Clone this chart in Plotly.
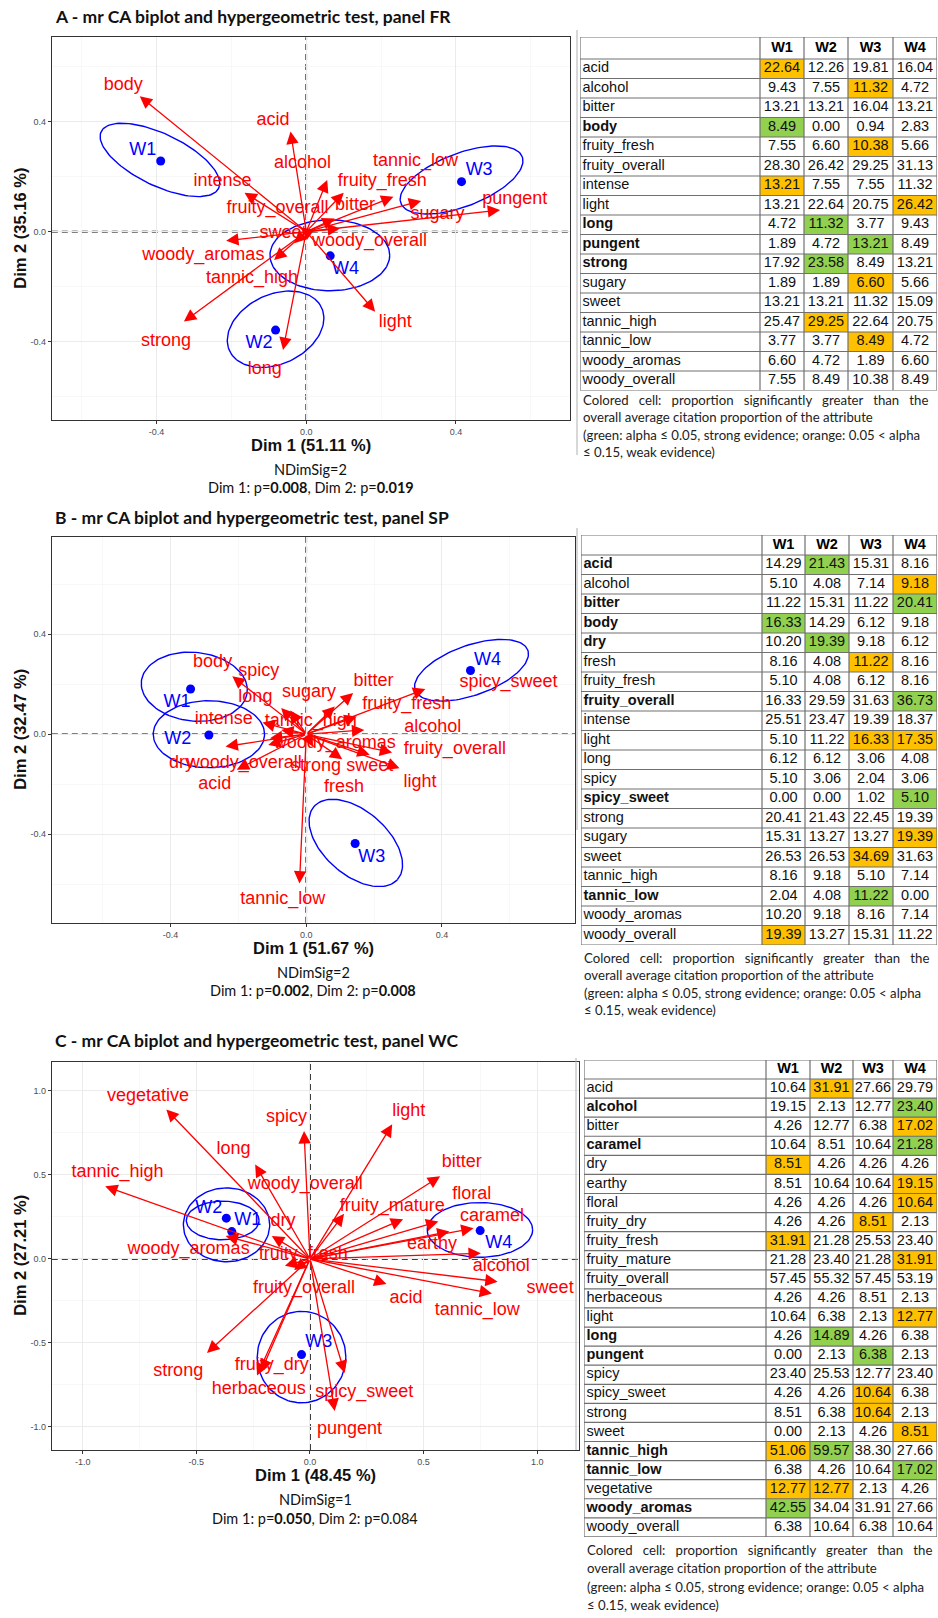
import numpy as np
import plotly.graph_objects as go

FIG_W, FIG_H = 938, 1618
wines = ["W1", "W2", "W3", "W4"]

# ---------------- Panel A (FR) ----------------
attrs_A = ["acid", "alcohol", "bitter", "body", "fruity_fresh", "fruity_overall", "intense", "light",
           "long", "pungent", "strong", "sugary", "sweet", "tannic_high", "tannic_low",
           "woody_aromas", "woody_overall"]
dim1_A = [-0.042, 0.056, 0.076, -0.445, 0.100, -0.015, -0.165, 0.184, -0.062, 0.518, -0.327, 0.307,
          -0.032, -0.086, 0.233, -0.214, 0.090]
dim2_A = [0.364, 0.188, 0.048, 0.493, 0.142, 0.015, 0.142, -0.291, -0.430, 0.079, -0.327, 0.112,
          -0.042, -0.103, 0.127, -0.033, 0.012]
labx_A = [-0.089, -0.010, 0.130, -0.489, 0.203, -0.077, -0.224, 0.238, -0.111, 0.557, -0.375, 0.351,
          -0.062, -0.145, 0.292, -0.275, 0.169]
laby_A = [0.404, 0.248, 0.097, 0.533, 0.182, 0.085, 0.182, -0.331, -0.500, 0.118, -0.400, 0.061,
          -0.006, -0.170, 0.257, -0.088, -0.036]
wine_d1_A = [-0.389, -0.082, 0.415, 0.064]
wine_d2_A = [0.257, -0.358, 0.182, -0.088]
wlabx_A = [-0.437, -0.126, 0.462, 0.105]
wlaby_A = [0.295, -0.406, 0.222, -0.137]
ell_cx_A = [-0.391, -0.082, 0.415, 0.063]
ell_cy_A = [0.261, -0.355, 0.188, -0.086]
ell_ux_A = [0.157, 0.105, 0.162, 0.160]
ell_uy_A = [-0.103, 0.110, 0.085, 0.0]
ell_vx_A = [0.030, -0.075, -0.026, 0.0]
ell_vy_A = [0.085, 0.085, 0.090, 0.129]
W1_A = [22.64, 9.43, 13.21, 8.49, 7.55, 28.30, 13.21, 13.21, 4.72, 1.89, 17.92, 1.89, 13.21, 25.47, 3.77, 6.60, 7.55]
W2_A = [12.26, 7.55, 13.21, 0.00, 6.60, 26.42, 7.55, 22.64, 11.32, 4.72, 23.58, 1.89, 13.21, 29.25, 3.77, 4.72, 8.49]
W3_A = [19.81, 11.32, 16.04, 0.94, 10.38, 29.25, 7.55, 20.75, 3.77, 13.21, 8.49, 6.60, 11.32, 22.64, 8.49, 1.89, 10.38]
W4_A = [16.04, 4.72, 13.21, 2.83, 5.66, 31.13, 11.32, 26.42, 9.43, 8.49, 13.21, 5.66, 15.09, 20.75, 4.72, 6.60, 8.49]
sig_A = ["o...", "..o.", "....", "g...", "..o.", "....", "o...", "...o", ".g..", "..g.", ".g..", "..o.",
         "....", ".o..", "..o.", "....", "...."]
bold_A = ["body", "long", "pungent", "strong"]

# ---------------- Panel B (SP) ----------------
attrs_B = ["acid", "alcohol", "bitter", "body", "dry", "fresh", "fruity_fresh", "fruity_overall", "intense",
           "light", "long", "spicy", "spicy_sweet", "strong", "sugary", "sweet", "tannic_high",
           "tannic_low", "woody_aromas", "woody_overall"]
dim1_B = [-0.205, 0.171, 0.138, -0.218, -0.238, 0.106, 0.149, 0.253, -0.129, 0.275, -0.047, -0.074,
          0.351, 0.020, 0.084, 0.187, -0.074, -0.020, -0.107, -0.112]
dim2_B = [-0.142, 0.017, 0.165, 0.232, -0.049, -0.100, 0.071, -0.073, 0.047, -0.136, 0.095, 0.105,
          0.181, -0.050, 0.111, -0.082, 0.017, -0.597, -0.016, -0.043]
labx_B = [-0.270, 0.373, 0.198, -0.276, -0.368, 0.111, 0.296, 0.438, -0.243, 0.335, -0.150, -0.140,
          0.596, 0.029, 0.008, 0.187, 0.013, -0.069, 0.084, -0.183]
laby_B = [-0.202, 0.027, 0.212, 0.286, -0.116, -0.215, 0.118, -0.060, 0.058, -0.195, 0.145, 0.252,
          0.205, -0.129, 0.165, -0.129, 0.051, -0.661, -0.036, -0.116]
wine_d1_B = [-0.341, -0.287, 0.144, 0.484]
wine_d2_B = [0.181, -0.003, -0.437, 0.255]
wlabx_B = [-0.381, -0.379, 0.193, 0.534]
wlaby_B = [0.128, -0.023, -0.495, 0.295]
ell_cx_B = [-0.330, -0.287, 0.146, 0.487]
ell_cy_B = [0.190, 0.000, -0.435, 0.256]
ell_ux_B = [0.155, 0.164, 0.123, 0.166]
ell_uy_B = [-0.030, 0.0, -0.146, 0.080]
ell_vx_B = [0.020, 0.0, 0.062, -0.025]
ell_vy_B = [0.135, 0.134, 0.096, 0.094]
W1_B = [14.29, 5.10, 11.22, 16.33, 10.20, 8.16, 5.10, 16.33, 25.51, 5.10, 6.12, 5.10, 0.00, 20.41, 15.31, 26.53, 8.16, 2.04, 10.20, 19.39]
W2_B = [21.43, 4.08, 15.31, 14.29, 19.39, 4.08, 4.08, 29.59, 23.47, 11.22, 6.12, 3.06, 0.00, 21.43, 13.27, 26.53, 9.18, 4.08, 9.18, 13.27]
W3_B = [15.31, 7.14, 11.22, 6.12, 9.18, 11.22, 6.12, 31.63, 19.39, 16.33, 3.06, 2.04, 1.02, 22.45, 13.27, 34.69, 5.10, 11.22, 8.16, 15.31]
W4_B = [8.16, 9.18, 20.41, 9.18, 6.12, 8.16, 8.16, 36.73, 18.37, 17.35, 4.08, 3.06, 5.10, 19.39, 19.39, 31.63, 7.14, 0.00, 7.14, 11.22]
sig_B = [".g..", "...o", "...g", "g...", ".g..", "..o.", "....", "...g", "....", "..oo", "....", "....",
         "...g", "....", "...o", "..o.", "....", "..g.", "....", "o..."]
bold_B = ["acid", "bitter", "body", "dry", "fruity_overall", "spicy_sweet", "tannic_low"]

# ---------------- Panel C (WC) ----------------
attrs_C = ["acid", "alcohol", "bitter", "caramel", "dry", "earthy", "floral", "fruity_dry", "fruity_fresh",
           "fruity_mature", "fruity_overall", "herbaceous", "light", "long", "pungent", "spicy",
           "spicy_sweet", "strong", "sweet", "tannic_high", "tannic_low", "vegetative", "woody_aromas",
           "woody_overall"]
dim1_C = [0.337, 0.752, 0.573, 0.720, -0.168, 0.614, 0.565, -0.233, -0.110, 0.410, -0.070, -0.215,
          0.362, -0.241, 0.109, -0.026, 0.153, -0.453, 0.826, -0.901, 0.801, -0.632, -0.371, 0.150]
dim2_C = [-0.149, 0.034, 0.492, 0.183, 0.137, 0.163, 0.223, -0.694, -0.040, 0.237, -0.066, -0.670,
          0.801, 0.562, -0.905, 0.761, -0.678, -0.559, -0.135, 0.432, -0.205, 0.890, 0.137, 0.269]
labx_C = [0.423, 0.842, 0.668, 0.801, -0.119, 0.537, 0.712, -0.168, -0.029, 0.362, -0.026, -0.225,
          0.435, -0.336, 0.174, -0.103, 0.239, -0.580, 1.057, -0.847, 0.736, -0.713, -0.534, -0.021]
laby_C = [-0.235, -0.046, 0.572, 0.253, 0.223, 0.084, 0.386, -0.634, 0.024, 0.313, -0.175, -0.777,
          0.876, 0.651, -1.014, 0.841, -0.797, -0.668, -0.175, 0.512, -0.306, 0.966, 0.058, 0.442]
wine_d1_C = [-0.344, -0.368, -0.037, 0.749]
wine_d2_C = [0.163, 0.243, -0.569, 0.169]
wlabx_C = [-0.274, -0.445, 0.039, 0.831]
wlaby_C = [0.229, 0.303, -0.500, 0.094]
ell_cx_C = [-0.367, -0.384, -0.037, 0.748]
ell_cy_C = [0.203, 0.229, -0.584, 0.173]
ell_ux_C = [0.190, 0.160, 0.195, 0.232]
ell_uy_C = [0.0, 0.0, 0.0, 0.0]
ell_vx_C = [0.0, 0.0, 0.0, 0.0]
ell_vy_C = [0.220, 0.115, 0.272, 0.163]
W1_C = [10.64, 19.15, 4.26, 10.64, 8.51, 8.51, 4.26, 4.26, 31.91, 21.28, 57.45, 4.26, 10.64, 4.26, 0.00, 23.40, 4.26, 8.51, 0.00, 51.06, 6.38, 12.77, 42.55, 6.38]
W2_C = [31.91, 2.13, 12.77, 8.51, 4.26, 10.64, 4.26, 4.26, 21.28, 23.40, 55.32, 4.26, 6.38, 14.89, 2.13, 25.53, 4.26, 6.38, 2.13, 59.57, 4.26, 12.77, 34.04, 10.64]
W3_C = [27.66, 12.77, 6.38, 10.64, 4.26, 10.64, 4.26, 8.51, 25.53, 21.28, 57.45, 8.51, 2.13, 4.26, 6.38, 12.77, 10.64, 10.64, 4.26, 38.30, 10.64, 2.13, 31.91, 6.38]
W4_C = [29.79, 23.40, 17.02, 21.28, 4.26, 19.15, 10.64, 2.13, 23.40, 31.91, 53.19, 2.13, 12.77, 6.38, 2.13, 23.40, 6.38, 2.13, 8.51, 27.66, 17.02, 4.26, 27.66, 10.64]
sig_C = [".o..", "...g", "...o", "...g", "o...", "...o", "...o", "..o.", "o...", "...o", "....", "....",
         "...o", ".g..", "..g.", "....", "..o.", "..o.", "...o", "og..", "...g", "oo..", "g...", "...."]
bold_C = ["alcohol", "caramel", "long", "pungent", "tannic_high", "tannic_low", "woody_aromas"]

titles = ["A - mr CA biplot and hypergeometric test, panel FR",
          "B - mr CA biplot and hypergeometric test, panel SP",
          "C - mr CA biplot and hypergeometric test, panel WC"]
dim1_pct = ["Dim 1 (51.11 %)", "Dim 1 (51.67 %)", "Dim 1 (48.45 %)"]
dim2_pct = ["Dim 2 (35.16 %)", "Dim 2 (32.47 %)", "Dim 2 (27.21 %)"]
ndimsig = ["NDimSig=2", "NDimSig=2", "NDimSig=1"]
pvals = ["Dim 1: p=<b>0.008</b>, Dim 2: p=<b>0.019</b>",
         "Dim 1: p=<b>0.002</b>, Dim 2: p=<b>0.008</b>",
         "Dim 1: p=<b>0.050</b>, Dim 2: p=0.084"]
NB = "\u00a0"
caption_lines = [
    "Colored" + NB * 3 + "cell:" + NB * 3 + "proportion" + NB * 3 + "significantly" + NB * 3 + "greater" + NB * 3 + "than" + NB * 3 + "the",
    "overall average citation proportion of the attribute",
    "(green: alpha ≤ 0.05, strong evidence; orange: 0.05 &lt; alpha",
    "≤ 0.15, weak evidence)",
]

# ---------------- layout geometry (pixels) ----------------
panels = [
    dict(attrs=attrs_A, d1=dim1_A, d2=dim2_A, lx=labx_A, ly=laby_A, wd1=wine_d1_A, wd2=wine_d2_A,
         wlx=wlabx_A, wly=wlaby_A, ell=(ell_cx_A, ell_cy_A, ell_ux_A, ell_uy_A, ell_vx_A, ell_vy_A),
         tab=(W1_A, W2_A, W3_A, W4_A), sig=sig_A, bold=bold_A,
         box=(51.8, 569.7, 37.3, 420.0), xr=(-0.680, 0.704), yr=(-0.685, 0.707),
         ticks=[-0.4, 0.0, 0.4], minor=[-0.6, -0.2, 0.2, 0.6],
         title_y=17, xt_y=445, nd_y=470, p_y=487,
         tl=580, tt=37, hh=22, rh=19.5, colw=[180, 44, 44, 45, 44],
         cap_x=581, cap_y=400, cap_dy=17.3, frame=(577, 30, 455)),
    dict(attrs=attrs_B, d1=dim1_B, d2=dim2_B, lx=labx_B, ly=laby_B, wd1=wine_d1_B, wd2=wine_d2_B,
         wlx=wlabx_B, wly=wlaby_B, ell=(ell_cx_B, ell_cy_B, ell_ux_B, ell_uy_B, ell_vx_B, ell_vy_B),
         tab=(W1_B, W2_B, W3_B, W4_B), sig=sig_B, bold=bold_B,
         box=(51.8, 575.0, 537.0, 922.7), xr=(-0.750, 0.792), yr=(-0.754, 0.789),
         ticks=[-0.4, 0.0, 0.4], minor=[-0.6, -0.2, 0.2, 0.6],
         title_y=517, xt_y=948, nd_y=972, p_y=990,
         tl=581, tt=535, hh=20, rh=19.5, colw=[181, 43, 44, 44, 44],
         cap_x=582, cap_y=958, cap_dy=17.3, frame=(577, 528, 830)),
    dict(attrs=attrs_C, d1=dim1_C, d2=dim2_C, lx=labx_C, ly=laby_C, wd1=wine_d1_C, wd2=wine_d2_C,
         wlx=wlabx_C, wly=wlaby_C, ell=(ell_cx_C, ell_cy_C, ell_ux_C, ell_uy_C, ell_vx_C, ell_vy_C),
         tab=(W1_C, W2_C, W3_C, W4_C), sig=sig_C, bold=bold_C,
         box=(51.8, 579.0, 1061.7, 1450.0), xr=(-1.136, 1.184), yr=(-1.137, 1.174),
         ticks=[-1.0, -0.5, 0.0, 0.5, 1.0], minor=[-0.75, -0.25, 0.25, 0.75],
         title_y=1040, xt_y=1475, nd_y=1499, p_y=1518,
         tl=584, tt=1060, hh=19, rh=19.08, colw=[182, 44, 43, 40, 44],
         cap_x=585, cap_y=1550, cap_dy=18.3, frame=(576, 1058, 1450)),
]

RED = "#FF0000"
BLUE = "#0000FF"
ORANGE = "#FFC000"
GREEN = "#92D050"
LINEC = "#707070"
ARIAL = "Arial, Liberation Sans, sans-serif"
CAL = "Lato, Carlito, sans-serif"


def px_x(v):
    return v / FIG_W


def px_y(v):
    return 1 - v / FIG_H


fig = go.Figure()
annotations = []
shapes = []
axes = {}

for i, P in enumerate(panels):
    n = i + 1
    xa = "x" if n == 1 else f"x{n}"
    ya = "y" if n == 1 else f"y{n}"
    L, R, T, B = P["box"]
    tick_txt = [f"{v:.1f}" for v in P["ticks"]]
    common = dict(showgrid=True, gridcolor="#EBEBEB", gridwidth=1, zeroline=False,
                  showline=True, mirror=True, linecolor="#333333", linewidth=1,
                  ticks="outside", ticklen=3, tickcolor="#333333", tickwidth=1,
                  tickfont=dict(family=ARIAL, size=9, color="#4D4D4D"),
                  tickvals=P["ticks"], ticktext=tick_txt,
                  minor=dict(tickvals=P["minor"], showgrid=True, gridcolor="#F4F4F4", gridwidth=0.6, ticks=""),
                  fixedrange=True)
    axes["xaxis" if n == 1 else f"xaxis{n}"] = dict(domain=[px_x(L), px_x(R)], range=list(P["xr"]), anchor=ya, **common)
    axes["yaxis" if n == 1 else f"yaxis{n}"] = dict(domain=[px_y(B), px_y(T)], range=list(P["yr"]), anchor=xa, **common)

    shapes.append(dict(type="line", xref=xa, yref=f"{ya} domain", x0=0, x1=0, y0=0, y1=1, layer="below",
                       line=dict(color="black", width=1.6, dash="6px,4px")))
    shapes.append(dict(type="line", xref=f"{xa} domain", yref=ya, x0=0, x1=1, y0=0, y1=0, layer="below",
                       line=dict(color="black", width=1.6, dash="6px,4px")))

    cx, cy, ux, uy, vx, vy = P["ell"]
    t = np.linspace(0, 2 * np.pi, 121)
    for k in range(len(cx)):
        ex = cx[k] + ux[k] * np.cos(t) + vx[k] * np.sin(t)
        ey = cy[k] + uy[k] * np.cos(t) + vy[k] * np.sin(t)
        fig.add_trace(go.Scatter(x=ex, y=ey, xaxis=xa, yaxis=ya, mode="lines",
                                 line=dict(color=BLUE, width=1.4), hoverinfo="skip", showlegend=False))

    fig.add_trace(go.Scatter(x=P["wd1"], y=P["wd2"], xaxis=xa, yaxis=ya, mode="markers",
                             marker=dict(color=BLUE, size=9), hoverinfo="skip", showlegend=False))
    fig.add_trace(go.Scatter(x=P["wlx"], y=P["wly"], xaxis=xa, yaxis=ya, mode="text", text=wines,
                             textfont=dict(family=ARIAL, size=18, color=BLUE), hoverinfo="skip",
                             showlegend=False))
    fig.add_trace(go.Scatter(x=P["lx"], y=P["ly"], xaxis=xa, yaxis=ya, mode="text", text=P["attrs"],
                             textfont=dict(family=ARIAL, size=18, color=RED), hoverinfo="skip",
                             showlegend=False))
    for k in range(len(P["attrs"])):
        annotations.append(dict(x=P["d1"][k], y=P["d2"][k], xref=xa, yref=ya, ax=0, ay=0, axref=xa, ayref=ya,
                                text="", showarrow=True, arrowhead=2, arrowsize=1.9, arrowwidth=1.3,
                                arrowcolor=RED, standoff=0, startstandoff=0))

    mid_x = px_x((L + R) / 2)
    annotations.append(dict(x=px_x(53), y=px_y(P["title_y"]), xref="paper", yref="paper", xanchor="left",
                            yanchor="middle", showarrow=False, text=f"<b>{titles[i]}</b>",
                            font=dict(family=CAL, size=17.5, color="#111111")))
    annotations.append(dict(x=mid_x, y=px_y(P["xt_y"]), xref="paper", yref="paper", xanchor="center",
                            yanchor="middle", showarrow=False, text=f"<b>{dim1_pct[i]}</b>",
                            font=dict(family=ARIAL, size=16.5, color="#111111")))
    annotations.append(dict(x=px_x(20), y=px_y((T + B) / 2), xref="paper", yref="paper", xanchor="center",
                            yanchor="middle", showarrow=False, text=f"<b>{dim2_pct[i]}</b>", textangle=-90,
                            font=dict(family=ARIAL, size=16.5, color="#111111")))
    annotations.append(dict(x=mid_x, y=px_y(P["nd_y"]), xref="paper", yref="paper", xanchor="center",
                            yanchor="middle", showarrow=False, text=ndimsig[i],
                            font=dict(family=CAL, size=14.5, color="#111111")))
    annotations.append(dict(x=mid_x, y=px_y(P["p_y"]), xref="paper", yref="paper", xanchor="center",
                            yanchor="middle", showarrow=False, text=pvals[i],
                            font=dict(family=CAL, size=14.5, color="#111111")))

    # ---------- table drawn on its own axis pair (units = pixels inside the table) ----------
    tn = n + 3
    txa, tya = f"x{tn}", f"y{tn}"
    nrows = len(P["attrs"])
    colw = P["colw"]
    tw = sum(colw)
    th = P["hh"] + nrows * P["rh"]
    col_edges = list(np.cumsum([0] + colw))
    row_edges = [0] + [P["hh"] + r * P["rh"] for r in range(nrows + 1)]
    axes[f"xaxis{tn}"] = dict(domain=[px_x(P["tl"]), px_x(P["tl"] + tw)], range=[0, tw], anchor=tya,
                              visible=False, fixedrange=True)
    axes[f"yaxis{tn}"] = dict(domain=[px_y(P["tt"] + th), px_y(P["tt"])], range=[th, 0], anchor=txa,
                              visible=False, fixedrange=True)
    code = {".": 0, "o": 1, "g": 2}
    z = [[code[c] for c in s] for s in P["sig"]]
    fig.add_trace(go.Heatmap(x=col_edges[1:], y=row_edges[1:], z=z, xaxis=txa, yaxis=tya, zmin=0, zmax=2,
                             colorscale=[[0, "white"], [0.5, ORANGE], [1, GREEN]], showscale=False,
                             hoverinfo="skip"))
    gx, gy = [], []
    for e in col_edges:
        gx += [e, e, None]
        gy += [0, th, None]
    for e in row_edges:
        gx += [0, tw, None]
        gy += [e, e, None]
    fig.add_trace(go.Scatter(x=gx, y=gy, xaxis=txa, yaxis=tya, mode="lines",
                             line=dict(color=LINEC, width=1.2), hoverinfo="skip", showlegend=False))
    centers_x = [(col_edges[j] + col_edges[j + 1]) / 2 for j in range(1, 5)]
    centers_y = [(row_edges[r + 1] + row_edges[r + 2]) / 2 for r in range(nrows)]
    fig.add_trace(go.Scatter(x=centers_x, y=[P["hh"] / 2] * 4, xaxis=txa, yaxis=tya, mode="text",
                             text=[f"<b>{w}</b>" for w in wines], cliponaxis=False,
                             textfont=dict(family=ARIAL, size=14.5, color="black"),
                             hoverinfo="skip", showlegend=False))
    labels = [f"<b>{a}</b>" if a in P["bold"] else a for a in P["attrs"]]
    fig.add_trace(go.Scatter(x=[2.5] * nrows, y=centers_y, xaxis=txa, yaxis=tya, mode="text",
                             text=labels, textposition="middle right", cliponaxis=False,
                             textfont=dict(family=ARIAL, size=14.5, color="#111111"),
                             hoverinfo="skip", showlegend=False))
    for j, col in enumerate(P["tab"]):
        fig.add_trace(go.Scatter(x=[centers_x[j]] * nrows, y=centers_y, xaxis=txa, yaxis=tya, mode="text",
                                 text=[f"{v:.2f}" for v in col], textposition="middle center",
                                 cliponaxis=False,
                                 textfont=dict(family=ARIAL, size=14.5, color="#111111"),
                                 hoverinfo="skip", showlegend=False))

    for li, line in enumerate(caption_lines):
        annotations.append(dict(x=px_x(P["cap_x"]), y=px_y(P["cap_y"] + li * P["cap_dy"]), xref="paper",
                                yref="paper", xanchor="left", yanchor="middle", showarrow=False, text=line,
                                font=dict(family=CAL, size=13.2, color="#222222")))

    fx, fy0, fy1 = P["frame"]
    shapes.append(dict(type="line", xref="paper", yref="paper", x0=px_x(fx), x1=px_x(fx),
                       y0=px_y(fy0), y1=px_y(fy1), line=dict(color="#B0B0B0", width=1)))

fig.update_layout(width=FIG_W, height=FIG_H, autosize=False, margin=dict(l=0, r=0, t=0, b=0),
                  paper_bgcolor="white", plot_bgcolor="white", showlegend=False, hovermode=False,
                  annotations=annotations, shapes=shapes, **axes)
fig.write_html("out.html", config={"displayModeBar": False, "staticPlot": True},
               post_script="document.body.style.margin='0px';document.body.style.padding='0px';")
